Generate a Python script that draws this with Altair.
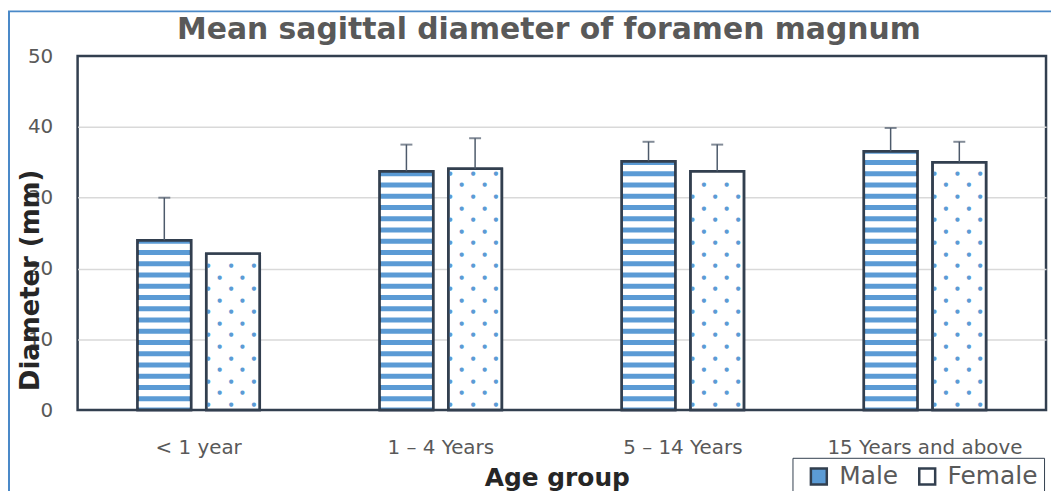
import altair as alt
import pandas as pd

# ---- data ----
groups = ["< 1 year", "1 – 4 Years", "5 – 14 Years", "15 Years and above"]
sexes = ["Male", "Female"]
male_mean = [24.0, 33.75, 35.15, 36.55]
female_mean = [22.1, 34.1, 33.75, 35.0]
male_upper = [30.0, 37.5, 37.9, 39.85]
female_upper = [None, 38.4, 37.5, 37.9]
y_ticks = [0, 10, 20, 30, 40, 50]

NAVY = "#323F4F"
BLUE = "#5B9BD5"
ERR = "#4D5A6B"
GREY = "#595959"
FONT = "DejaVu Sans"

df = pd.DataFrame({
    "group": groups * 2,
    "sex": ["Male"] * 4 + ["Female"] * 4,
    "mean": male_mean + female_mean,
    "upper": male_upper + female_upper,
})

base = alt.Chart(df)

x_enc = alt.X(
    "group:N", sort=groups,
    scale=alt.Scale(domain=groups, paddingInner=0.495, paddingOuter=0.2475),
    axis=alt.Axis(
        title="Age group", labelAngle=0, labelFont=FONT, labelFontSize=20,
        labelColor=GREY, labelBaseline="alphabetic", labelPadding=44, labelLimit=400,
        ticks=False, domain=False, grid=False,
        titleFont=FONT, titleFontSize=25, titleFontWeight="bold",
        titleColor="#262626", titleBaseline="alphabetic", titleY=76, titleX=482,
    ),
)
xo_enc = alt.XOffset("sex:N", sort=sexes,
                     scale=alt.Scale(domain=sexes, paddingInner=0.22, paddingOuter=0))
y_scale = alt.Scale(domain=[0, 50], nice=False, zero=True)
y_axis = alt.Axis(
    values=y_ticks, grid=True,
    gridColor={"condition": {"test": "datum.value == 0 || datum.value == 50",
                             "value": "transparent"}, "value": "#D9D9D9"},
    gridWidth=1.5,
    domain=False, ticks=False, labelFont=FONT, labelFontSize=20, labelColor=GREY,
    labelPadding=25, title="Diameter (mm)", titleFont=FONT, titleFontSize=26,
    titleFontWeight="bold", titleColor="#262626", titleAngle=270,
    titleX=-47, titleY=225, titleAlign="center", titleBaseline="middle",
)

bars_base = base.mark_bar(stroke=NAVY, strokeWidth=2.5).encode(
    x=x_enc, xOffset=xo_enc,
    y=alt.Y("mean:Q", scale=y_scale, axis=y_axis),
    fill=alt.Fill("sex:N", scale=alt.Scale(domain=sexes, range=[BLUE, "#FFFFFF"]),
                  legend=alt.Legend(
                      title=None, orient="none", legendX=719, legendY=404,
                      direction="horizontal", symbolType="square", symbolSize=256,
                      symbolStrokeColor=NAVY, symbolStrokeWidth=2.5,
                      labelFont=FONT, labelFontSize=25, labelColor=GREY,
                      labelOffset=8, columnPadding=8, padding=6, symbolOffset=8,
                      strokeColor=NAVY, fillColor="#FFFFFF")),
)

# white stripes over the blue male bars
stripes = base.transform_filter("datum.sex == 'Male'").transform_calculate(
    s="sequence(0.35, datum.mean, 1.59)"
).transform_flatten(["s"]).transform_calculate(
    s2="min(datum.s + 0.89, datum.mean)"
).mark_bar(fill="#FFFFFF", strokeWidth=0).encode(
    x=x_enc, xOffset=xo_enc, y=alt.Y("s:Q", scale=y_scale), y2="s2:Q"
)

# blue dots over the white female bars
dots_src = base.transform_filter("datum.sex == 'Female'").transform_calculate(
    s="sequence(0.9, datum.mean - 0.5, 1.63)"
).transform_flatten(["s"]).transform_calculate(
    row="round((datum.s - 0.9) / 1.63) % 2"
)
dot_layers = []
for row, dxs in [(0, [-25, -2, 21]), (1, [-13.5, 9.5])]:
    for dx in dxs:
        dot_layers.append(
            dots_src.transform_filter(f"datum.row == {row}").mark_text(
                text="●", font=FONT, fontSize=5.5, color=BLUE, dx=dx,
                align="center", baseline="middle"
            ).encode(x=x_enc, xOffset=xo_enc, y=alt.Y("s:Q", scale=y_scale))
        )

outline = base.mark_bar(fillOpacity=0, stroke=NAVY, strokeWidth=2.5).encode(
    x=x_enc, xOffset=xo_enc, y=alt.Y("mean:Q", scale=y_scale)
)

err = base.transform_filter("isValid(datum.upper)").mark_rule(
    color=ERR, strokeWidth=1.5
).encode(x=x_enc, xOffset=xo_enc, y=alt.Y("mean:Q", scale=y_scale), y2="upper:Q")

cap = base.transform_filter("isValid(datum.upper)").mark_tick(
    color=ERR, size=12, thickness=2
).encode(x=x_enc, xOffset=xo_enc, y=alt.Y("upper:Q", scale=y_scale))

frame = alt.Chart(pd.DataFrame({"k": [0]})).mark_rect(
    fillOpacity=0, stroke="#4A89C8", strokeWidth=2
).encode(x=alt.value(-69), x2=alt.value(990), y=alt.value(-45), y2=alt.value(460))

chart = alt.layer(
    bars_base, stripes, *dot_layers, outline, err, cap, frame
).properties(
    width=974, height=356,
    padding={"left": 70, "top": 47, "right": 5, "bottom": 80},
    autosize=alt.AutoSizeParams(type="none"),
    background="#FFFFFF",
    title=alt.TitleParams(
        "Mean sagittal diameter of foramen magnum", font=FONT, fontSize=30,
        fontWeight="bold", color=GREY, anchor="middle", dx=-13, dy=75, offset=16,
        baseline="alphabetic", frame="group",
    ),
).configure_view(stroke=NAVY, strokeWidth=2.5)

chart.save("out.html", embed_options={"renderer": "svg", "actions": False})
